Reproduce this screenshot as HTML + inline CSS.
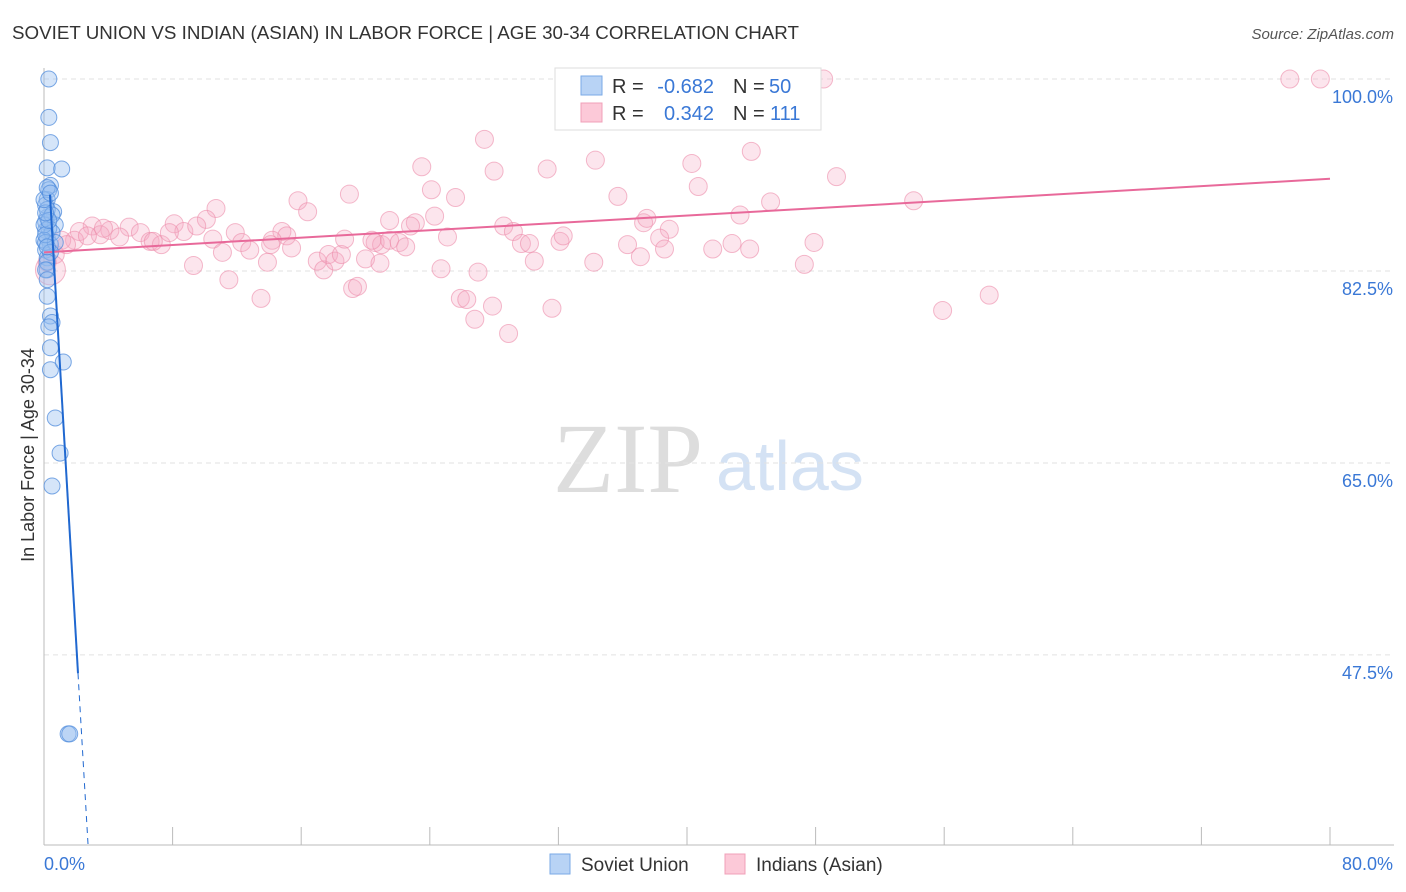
<!DOCTYPE html>
<html><head><meta charset="utf-8"><style>
body{margin:0;background:#fff;font-family:"Liberation Sans",sans-serif}
svg{display:block}
</style></head><body>
<svg width="1406" height="892" xmlns="http://www.w3.org/2000/svg">
<defs><clipPath id="plotclip"><rect x="0" y="60" width="1406" height="785"/></clipPath></defs>
<text x="12" y="39" font-size="18" fill="#333" textLength="787" lengthAdjust="spacingAndGlyphs">SOVIET UNION VS INDIAN (ASIAN) IN LABOR FORCE | AGE 30-34 CORRELATION CHART</text>
<text x="1394" y="39" font-size="15" fill="#555" font-style="italic" text-anchor="end">Source: ZipAtlas.com</text>
<g>
<text x="553" y="492" font-size="100" fill="#ddd" font-family="Liberation Serif,serif">ZIP</text>
<text x="716" y="490" font-size="70" fill="#d4e2f4">atlas</text>
</g>
<g id="grid"></g>
<g id="axes"></g>
<g id="pts"></g>
<g id="lines" clip-path="url(#plotclip)"></g>
<text transform="translate(34,455) rotate(-90)" font-size="18" fill="#333" text-anchor="middle">In Labor Force | Age 30-34</text>
<g>
<rect x="555" y="68" width="266" height="62" fill="#fff" stroke="#ddd"/>
<rect x="581" y="76" width="21" height="19" fill="#b8d3f5" stroke="#7aa9e6"/>
<rect x="581" y="103" width="21" height="19" fill="#fcc9d8" stroke="#f0a0b8"/>
<text x="612" y="93" font-size="20" fill="#333">R =</text>
<text x="714" y="93" font-size="20" fill="#3a78d6" text-anchor="end">-0.682</text>
<text x="733" y="93" font-size="20" fill="#333">N =</text>
<text x="769" y="93" font-size="20" fill="#3a78d6">50</text>
<text x="612" y="120" font-size="20" fill="#333">R =</text>
<text x="714" y="120" font-size="20" fill="#3a78d6" text-anchor="end">0.342</text>
<text x="733" y="120" font-size="20" fill="#333">N =</text>
<text x="770" y="120" font-size="20" fill="#3a78d6">111</text>
</g>
<g>
<rect x="550" y="854" width="20" height="20" fill="#b8d3f5" stroke="#7aa9e6"/>
<text x="581" y="871" font-size="19" fill="#333">Soviet Union</text>
<rect x="725" y="854" width="20" height="20" fill="#fcc9d8" stroke="#f0a0b8"/>
<text x="756" y="871" font-size="19" fill="#333">Indians (Asian)</text>
</g>
</svg>
<script>
const yTicks=[100,82.5,65,47.5];
const yTickLabels=["100.0%","82.5%","65.0%","47.5%"];
const xTicks=[0,8,16,24,32,40,48,56,64,72,80];
const xEndLabels=["0.0%","80.0%"];
const blueX=[0.3,0.3,0.4,0.2,1.1,0.4,0.3,0.2,0.6,0.2,0.7,0.1,0.2,0.4,0.1,0.2,0.2,0.2,0.4,0.5,0.3,0.4,0.4,1.2,0.7,1.0,0.5,1.5,1.6,0.1,0.2,0.1,0.3,0.5,0.0,0.1,0.7,0.4,0.2,0.1,0.2,0.0,0.1,0.5,0.3,0.1,0.0,0.2,0.4,0.2];
const blueY=[100,96.5,94.2,91.9,91.8,90.3,89.9,89.0,87.9,87.4,86.7,86.2,85.5,84.9,84.4,83.7,82.6,80.2,78.4,77.8,77.4,75.5,73.5,74.2,69.1,65.9,62.9,40.3,40.3,88.5,88.1,87.0,86.4,86.0,85.3,85.1,85.1,84.2,83.3,82.6,81.7,86.7,85.8,87.6,87.1,87.8,89.0,90.1,89.6,84.7];
const pinkX=[77.5,79.4,48.5,39.3,27.4,23.5,28.0,31.3,34.3,40.3,44.0,49.3,40.7,24.1,25.6,19.0,15.8,16.4,35.7,54.1,45.2,43.3,37.3,37.5,21.5,23.1,24.3,28.6,29.2,38.9,10.7,10.1,8.1,8.7,5.3,4.1,3.0,2.2,1.9,1.1,3.5,4.7,6.0,6.6,7.3,6.8,9.5,10.5,11.9,12.3,12.8,13.9,14.8,15.1,15.4,14.2,11.1,9.3,11.5,13.5,17.0,17.4,17.7,18.1,18.5,20.0,20.6,21.0,21.5,22.1,22.5,22.8,25.1,24.7,27.0,25.9,26.3,26.8,27.9,28.9,29.7,30.2,30.5,31.6,32.1,32.3,34.2,36.3,37.1,38.3,38.6,41.6,42.8,43.9,47.9,47.3,55.9,58.8,19.2,19.5,0.7,0.4,0.2,20.4,20.9,14.1,18.7,2.7,1.4,3.7,7.8];
const pinkY=[100,100,100,96.5,94.5,92.0,91.6,91.8,92.6,92.3,93.4,91.1,90.2,89.9,89.2,89.5,88.9,87.9,89.3,88.9,88.8,87.6,86.9,87.3,87.1,86.9,87.5,86.6,86.1,86.3,88.2,87.2,86.8,86.1,86.5,86.2,86.6,86.1,85.3,85.3,85.8,85.6,86.0,85.2,84.9,85.2,86.6,85.4,86.0,85.1,84.4,83.3,86.1,85.7,84.6,85.3,84.2,83.0,81.7,80.0,83.4,82.6,84.0,83.4,84.0,83.6,85.1,84.9,85.3,85.1,84.7,86.6,85.6,82.7,82.4,80.0,79.9,78.1,79.3,76.8,85.0,85.0,83.4,79.1,85.2,85.7,83.3,84.9,83.8,85.5,84.5,84.5,85.0,84.5,85.1,83.1,78.9,80.3,80.9,81.1,84.0,82.6,83.3,85.3,83.2,84.9,85.4,85.7,84.9,86.4,86.0];
const blueTrend=[98.7,-25.0];
const pinkTrend=[84.2,0.0838];
const NS="http://www.w3.org/2000/svg";
const X=v=>44+v*16.075;
const Y=v=>79+(100-v)*10.97;
function mk(tag,attrs,parent){const e=document.createElementNS(NS,tag);for(const k in attrs)e.setAttribute(k,attrs[k]);document.getElementById(parent).appendChild(e);return e;}
yTicks.forEach((t,i)=>{
 const l=mk('line',{x1:44,x2:1394,y1:Y(t),y2:Y(t),stroke:'#e2e2e2','stroke-dasharray':'5,4'},'grid');
 
 
 const tx=mk('text',{x:1393,y:Y(t)+24,'font-size':18,fill:'#3a78d6','text-anchor':'end'},'grid');
 tx.textContent=yTickLabels[i];
 
 
});
const ax=mk('line',{x1:44,x2:1394,y1:845,y2:845,stroke:'#bbb'},'axes');


const ay=mk('line',{x1:44,x2:44,y1:68,y2:845,stroke:'#bbb'},'axes');


xTicks.forEach(t=>{
 const l=mk('line',{x1:X(t),x2:X(t),y1:827,y2:845,stroke:'#bbb'},'axes');
 
 
});
const xl0=mk('text',{x:44,y:870,'font-size':18,fill:'#3a78d6'},'axes');xl0.textContent=xEndLabels[0];


const xl1=mk('text',{x:1393,y:870,'font-size':18,fill:'#3a78d6','text-anchor':'end'},'axes');xl1.textContent=xEndLabels[1];


pinkX.forEach((v,i)=>{
 const c=mk('circle',{cx:X(v),cy:Y(pinkY[i]),r:(v<0.5&&pinkY[i]<83)?15:9,fill:'rgba(246,170,196,0.3)',stroke:'rgba(236,140,170,0.6)','stroke-width':1},'pts');
 
 
});
blueX.forEach((v,i)=>{
 const c=mk('circle',{cx:X(v),cy:Y(blueY[i]),r:8,fill:'rgba(150,190,240,0.4)',stroke:'rgba(80,140,220,0.75)','stroke-width':1},'pts');
 
 
});
const pl=mk('line',{x1:X(0),y1:Y(pinkTrend[0]),x2:X(80),y2:Y(pinkTrend[0]+pinkTrend[1]*80),stroke:'#e8699a','stroke-width':2},'lines');


const bStart=0.37, bEnd=2.115, bDash=2.86;
const bl=mk('line',{x1:X(bStart),y1:Y(blueTrend[0]+blueTrend[1]*bStart),x2:X(bEnd),y2:Y(blueTrend[0]+blueTrend[1]*bEnd),stroke:'#2068d0','stroke-width':2},'lines');


const bd=mk('line',{x1:X(bEnd),y1:Y(blueTrend[0]+blueTrend[1]*bEnd),x2:X(bDash),y2:Y(blueTrend[0]+blueTrend[1]*bDash),stroke:'#2068d0','stroke-width':1,'stroke-dasharray':'6,5'},'lines');


</script>
</body></html>
